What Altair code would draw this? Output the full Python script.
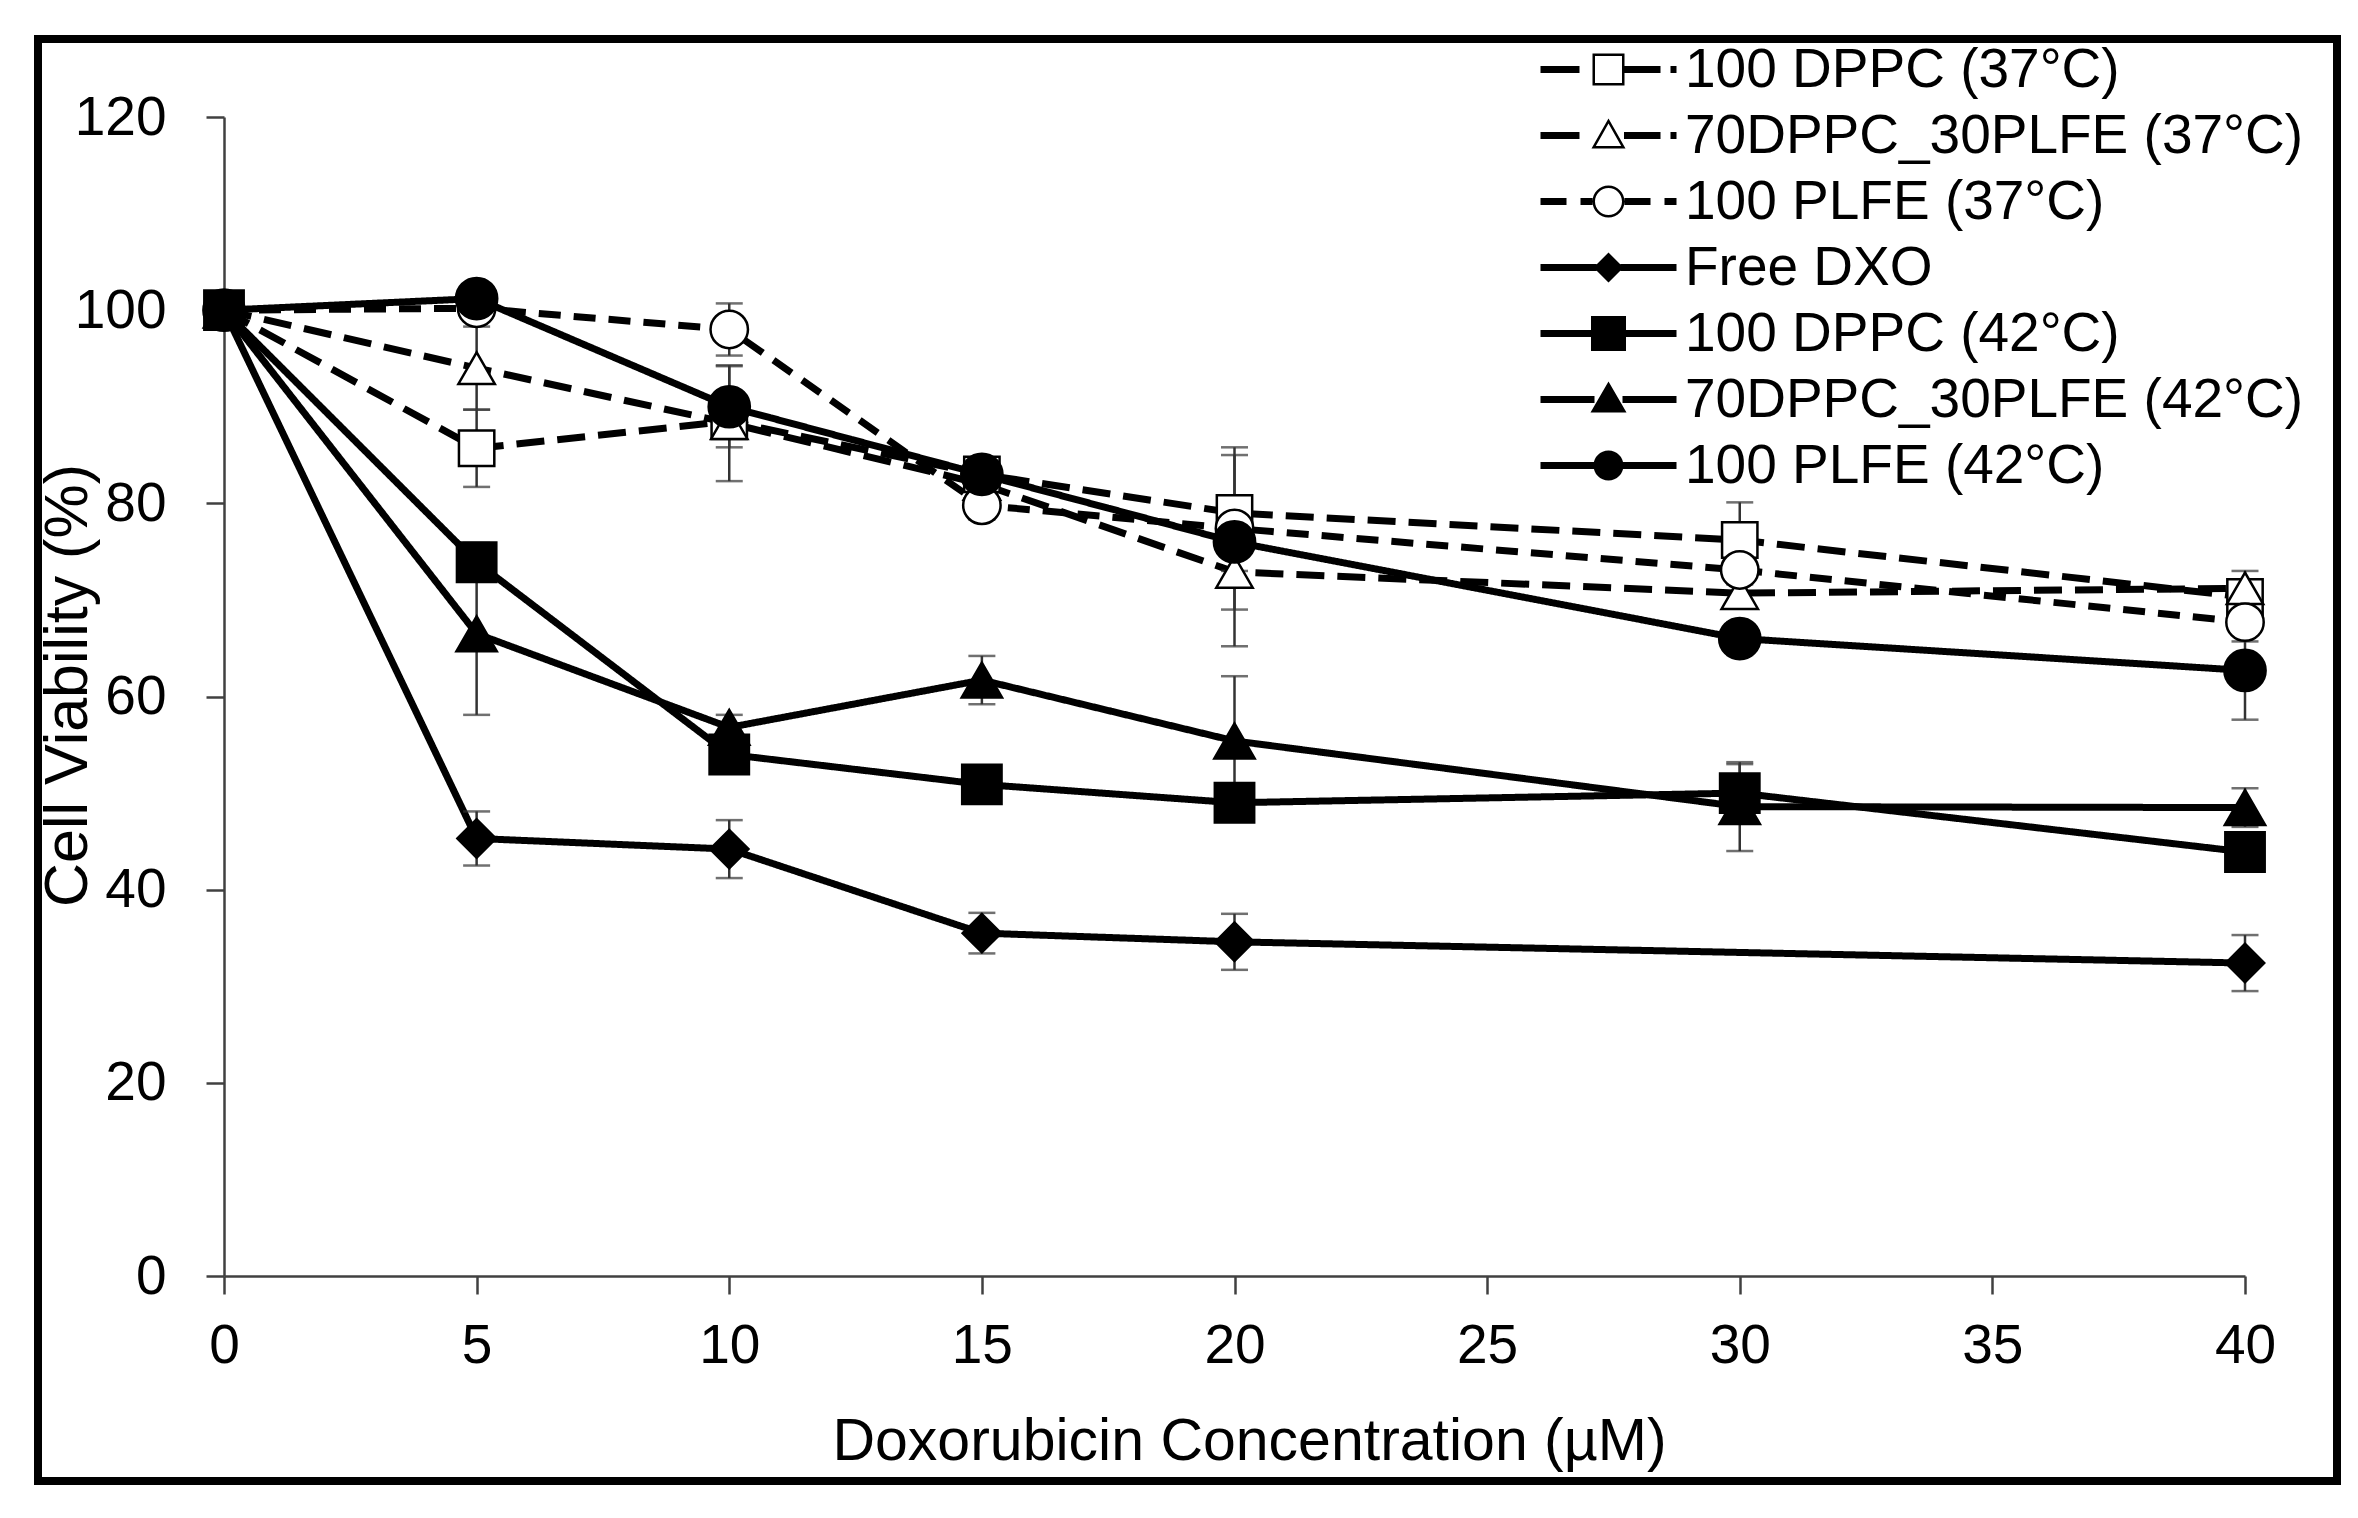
import altair as alt
import pandas as pd

# ---------------- data ----------------
conc = [0, 5, 10, 15, 20, 30, 40]

series_names = [
    "100 DPPC (37°C)",
    "70DPPC_30PLFE (37°C)",
    "100 PLFE (37°C)",
    "Free DXO",
    "100 DPPC (42°C)",
    "70DPPC_30PLFE (42°C)",
    "100 PLFE (42°C)",
]

dppc37 = [100, 85.7, 88.5, 83.0, 79.0, 76.2, 70.3]
mix37 = [100, 94.0, 88.3, 82.0, 72.9, 70.7, 71.2]
plfe37 = [100, 100.2, 98.0, 79.8, 77.4, 73.1, 67.7]
free_dxo = [100, 45.3, 44.2, 35.5, 34.6, None, 32.4]
dppc42 = [100, 73.9, 54.0, 50.9, 49.0, 50.0, 43.9]
mix42 = [100, 66.5, 56.8, 61.7, 55.4, 48.6, 48.5]
plfe42 = [100, 101.2, 90.0, 83.0, 76.0, 66.0, 62.7]

dppc37_err = [0, 4.0, 1.5, 1.5, 6.0, 3.9, 1.5]
mix37_err = [0, 4.3, 6.0, 1.5, 7.7, 1.5, 1.8]
plfe37_err = [0, 1.0, 2.7, 1.5, 8.4, 1.5, 2.0]
free_dxo_err = [0, 2.8, 3.0, 2.1, 2.9, None, 2.9]
dppc42_err = [0, 2.0, 1.5, 1.2, 1.2, 3.0, 1.2]
mix42_err = [0, 8.4, 1.3, 2.5, 6.7, 4.6, 2.0]
plfe42_err = [0, 1.0, 4.2, 1.2, 1.5, 1.7, 5.1]

values = [dppc37, mix37, plfe37, free_dxo, dppc42, mix42, plfe42]
errors = [dppc37_err, mix37_err, plfe37_err, free_dxo_err, dppc42_err, mix42_err, plfe42_err]

# ---------------- styles ----------------
dash_range = [[28, 13], [28, 13], [22, 13], [1, 0], [1, 0], [1, 0], [1, 0]]
shape_range = ["square", "triangle-up", "circle", "diamond", "square", "triangle-up", "circle"]
fill_range = ["white", "white", "white", "black", "black", "black", "black"]
size_range = [1250, 1700, 1450, 1600, 1350, 1900, 1300]


# legend glyphs (line segment + marker) as filled SVG symbol paths
def rect(x0, x1, h=0.35):
    return f"M{x0},{-h}H{x1}V{h}H{x0}Z"


def circle_cw(r):
    return f"M{-r},0A{r},{r} 0 1,1 {r},0A{r},{r} 0 1,1 {-r},0Z"


def circle_ccw(r):
    return f"M{-r},0A{r},{r} 0 1,0 {r},0A{r},{r} 0 1,0 {-r},0Z"


sq_ring = "M-1.6,-1.6H1.6V1.6H-1.6Z" + "M-1.35,-1.35V1.35H1.35V-1.35Z"
tri_ring = "M0,-1.7L1.7,1.3H-1.7Z" + "M0,-1.19L-1.27,1.05H1.27Z"
circ_ring = circle_cw(1.6) + circle_ccw(1.35)

legend_paths = [
    sq_ring + rect(-6.8, -2.9) + rect(1.6, 5.2) + rect(6.2, 6.8),
    tri_ring + rect(-6.8, -2.9) + rect(1.55, 5.2) + rect(6.2, 6.8),
    circ_ring + rect(-6.8, -4.2) + rect(-2.8, -1.6) + rect(1.6, 4.2) + rect(5.6, 6.8),
    "M0,-1.5L1.5,0L0,1.5L-1.5,0Z" + rect(-6.8, -1.2) + rect(1.2, 6.8),
    "M-1.75,-1.75H1.75V1.75H-1.75Z" + rect(-6.8, -1.6) + rect(1.6, 6.8),
    "M0,-1.8L1.8,1.3H-1.8Z" + rect(-6.8, -1.4) + rect(1.4, 6.8),
    circle_cw(1.5) + rect(-6.8, -1.4) + rect(1.4, 6.8),
]

rows = []
err_rows = []
for name, vals, errs in zip(series_names, values, errors):
    for x, v, e in zip(conc, vals, errs):
        if v is None:
            continue
        rows.append({"series": name, "conc": x, "viab": v})
        if e:
            err_rows.append({"series": name, "conc": x, "lo": v - e, "hi": v + e})

df = pd.DataFrame(rows)
err_df = pd.DataFrame(err_rows)

FONT = "Liberation Sans"
W, H = 2021, 1159
YTITLE = "Cell Viability (%)"

xscale = alt.Scale(domain=[0, 40], nice=False, zero=False)
yscale = alt.Scale(domain=[0, 120], nice=False)

xaxis = alt.Axis(
    values=list(range(0, 41, 5)), format="d", grid=False, labelFlush=False,
    title="Doxorubicin Concentration (µM)",
    titleX=1025, titleY=165, titleBaseline="middle", titleAnchor="middle",
    titleFontSize=59, labelPadding=25,
)
yaxis = alt.Axis(
    values=list(range(0, 121, 20)), format="d", grid=False, labelFlush=False,
    title=YTITLE,
    titleX=-156, titleY=568, titleBaseline="middle", titleAngle=-90,
    titleFontSize=61, labelPadding=40,
)

X = alt.X("conc:Q", scale=xscale, axis=xaxis)
Y = alt.Y("viab:Q", scale=yscale, axis=yaxis)

base = alt.Chart(df)

# outer frame of the figure (decoration)
frame = base.mark_rect(
    filled=False, stroke="black", strokeWidth=8, fill="transparent"
).encode(
    x=alt.value(-186), x2=alt.value(2113), y=alt.value(-78), y2=alt.value(1364)
).transform_filter("datum.conc == 0 && datum.series == 'Free DXO'")

lines = base.mark_line(color="black", strokeWidth=7, strokeCap="butt").encode(
    x=X,
    y=Y,
    strokeDash=alt.StrokeDash(
        "series:N", scale=alt.Scale(domain=series_names, range=dash_range), legend=None
    ),
)

errbars = alt.Chart(err_df).mark_errorbar(
    ticks={"size": 27, "thickness": 2.5, "color": "#333333"},
    rule={"strokeWidth": 2.5, "color": "#333333"},
).encode(
    x=alt.X("conc:Q", scale=xscale),
    y=alt.Y("lo:Q", scale=yscale, title=YTITLE),
    y2="hi:Q",
)

points = base.mark_point(stroke="black", strokeWidth=2.5, opacity=1, fillOpacity=1).encode(
    x=X,
    y=Y,
    shape=alt.Shape("series:N", scale=alt.Scale(domain=series_names, range=shape_range), legend=None),
    fill=alt.Fill("series:N", scale=alt.Scale(domain=series_names, range=fill_range), legend=None),
    size=alt.Size("series:N", scale=alt.Scale(domain=series_names, range=size_range), legend=None),
)

# ---------------- legend (line + marker glyphs) ----------------
legend_layer = base.mark_point(
    filled=True, color="black", opacity=1
).encode(
    shape=alt.Shape(
        "series:N",
        scale=alt.Scale(domain=series_names, range=legend_paths),
        legend=alt.Legend(
            title=None, orient="none", legendX=1357, legendY=-75,
            labelFontSize=55, labelFont=FONT, labelColor="black", labelLimit=2000,
            labelOffset=49, rowPadding=10, padding=0, symbolSize=400,
            symbolFillColor="black", symbolStrokeColor="black", symbolStrokeWidth=0,
            symbolOpacity=1,
        ),
    ),
).transform_filter("false")

chart = alt.layer(frame, lines, errbars, points, legend_layer).resolve_scale(
    shape="independent"
).properties(
    width=W,
    height=H,
    autosize=alt.AutoSizeParams(type="none"),
    padding={"left": 216, "top": 109, "right": 100, "bottom": 215},
    background="white",
).configure_view(
    stroke="transparent"
).configure_axis(
    labelFont=FONT, labelFontSize=55, labelColor="black",
    titleFont=FONT, titleFontWeight="normal", titleColor="black",
    domainColor="#404040", domainWidth=2.5, tickColor="#404040", tickWidth=2.5,
    tickSize=18,
)

chart.save("out.html", embed_options={"renderer": "svg", "actions": False})
